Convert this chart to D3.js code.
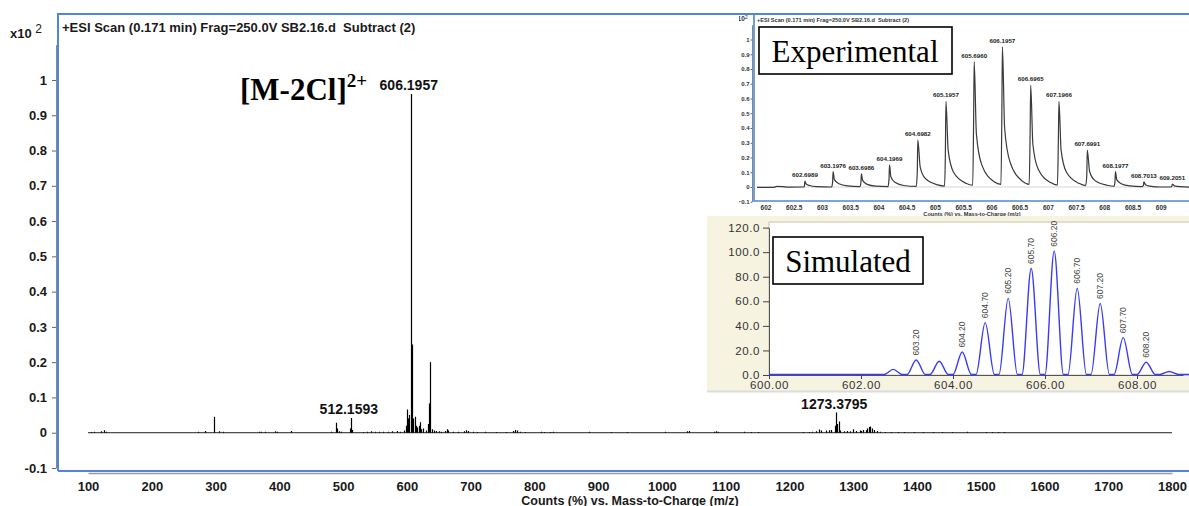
<!DOCTYPE html>
<html>
<head>
<meta charset="utf-8">
<script src="https://cdn.jsdelivr.net/npm/d3@7"></script>
<style>
  html, body { margin: 0; padding: 0; background: #fff; }
  svg { display: block; }
</style>
</head>
<body>
<svg id="chart" width="1189" height="506"></svg>
<script>
// ---------- Full-range ESI spectrum (centroid sticks) ----------
const mainMz = [104, 110, 121, 125, 128,
  273, 283, 298, 305, 312,
  368, 372, 377, 394, 396, 418,
  481, 489.2, 490.5, 494, 497,
  510.6, 512.1593, 513.2, 514.5,
  531, 538, 544, 550, 556, 562, 570, 577, 584, 589, 595,
  598.5, 600, 601, 602.4, 604, 606.1957, 607.5, 608.6, 610, 612.5, 614, 616, 618.5, 620, 623, 626, 630,
  633, 634.6, 635.8, 637, 639, 642, 646, 650, 654, 660, 663, 665, 672, 680, 690, 693, 696, 703, 710, 722,
  740, 755, 767, 770, 773, 778, 785, 810, 815, 825, 830, 886,
  920, 946, 1005, 1040, 1043, 1081, 1085, 1088, 1128, 1139, 1150,
  1222, 1230, 1236, 1242, 1246, 1250, 1257, 1262, 1266, 1271, 1273.3795, 1275, 1277.6, 1280, 1285, 1290,
  1295, 1300, 1305, 1310, 1313, 1316, 1320, 1322, 1325, 1327, 1330, 1333, 1337, 1342, 1350, 1360, 1370,
  1380, 1395, 1410, 1425, 1440, 1455, 1478, 1508, 1518, 1527, 1537];
const mainInt = [0.002, 0.003, 0.004, 0.007, 0.003,
  0.003, 0.005, 0.045, 0.004, 0.003,
  0.003, 0.003, 0.003, 0.004, 0.003, 0.005,
  0.003, 0.028, 0.012, 0.004, 0.003,
  0.012, 0.042, 0.02, 0.008,
  0.002, 0.003, 0.004, 0.003, 0.003, 0.003, 0.003, 0.004, 0.005, 0.003, 0.006,
  0.02, 0.066, 0.04, 0.04, 0.05, 0.96, 0.06, 0.25, 0.04, 0.045, 0.02, 0.015, 0.02, 0.03, 0.01, 0.012, 0.006,
  0.025, 0.083, 0.2, 0.025, 0.01, 0.006, 0.005, 0.004, 0.003, 0.005, 0.01, 0.006, 0.003, 0.003, 0.004, 0.007, 0.005, 0.003, 0.002, 0.003,
  0.002, 0.002, 0.005, 0.008, 0.006, 0.003, 0.002, 0.003, 0.002, 0.002, 0.003, 0.003,
  0.002, 0.002, 0.003, 0.004, 0.005, 0.003, 0.004, 0.003, 0.003, 0.002, 0.002,
  0.002, 0.002, 0.003, 0.004, 0.009, 0.006, 0.006, 0.007, 0.008, 0.02, 0.057, 0.025, 0.032, 0.006, 0.004, 0.005,
  0.004, 0.01, 0.005, 0.006, 0.005, 0.008, 0.007, 0.012, 0.016, 0.018, 0.012, 0.008, 0.005, 0.003, 0.002, 0.002, 0.002,
  0.002, 0.002, 0.002, 0.002, 0.002, 0.002, 0.003, 0.002, 0.002, 0.002, 0.002];

const mainXTicks = [100, 200, 300, 400, 500, 600, 700, 800, 900, 1000, 1100, 1200, 1300, 1400, 1500, 1600, 1700, 1800];
const mainYTicks = [-0.1, 0, 0.1, 0.2, 0.3, 0.4, 0.5, 0.6, 0.7, 0.8, 0.9, 1];
const mainYLabels = ["-0.1", "0", "0.1", "0.2", "0.3", "0.4", "0.5", "0.6", "0.7", "0.8", "0.9", "1"];

// Labelled ions on the full spectrum
const mainLabelMz = [606.1957, 512.1593, 1273.3795];
const mainLabelInt = [0.96, 0.042, 0.057];
const mainLabelText = ["606.1957", "512.1593", "1273.3795"];

// ---------- Experimental isotope cluster (profile trace) ----------
const expProfile = [
  [601.85, -0.003], [602.15, -0.002], [602.2, 0.004], [602.3, 0.003], [602.4, -0.001], [602.68, 0.0],
  [602.69, 0.01], [602.699, 0.04], [602.72, 0.02], [602.78, 0.01], [602.9, 0.003], [603.17, 0.0],
  [603.188, 0.03], [603.198, 0.105], [603.22, 0.05], [603.3, 0.022], [603.45, 0.007], [603.67, 0.002],
  [603.69, 0.03], [603.699, 0.09], [603.72, 0.045], [603.8, 0.018], [603.95, 0.006], [604.17, 0.003],
  [604.187, 0.05], [604.197, 0.15], [604.22, 0.07], [604.3, 0.03], [604.45, 0.01], [604.67, 0.004],
  [604.688, 0.1], [604.698, 0.32], [604.74, 0.135], [604.83, 0.058], [605.05, 0.014], [605.17, 0.006],
  [605.185, 0.2], [605.196, 0.58], [605.235, 0.25], [605.33, 0.1], [605.55, 0.025], [605.67, 0.012],
  [605.686, 0.45], [605.696, 0.85], [605.735, 0.36], [605.83, 0.15], [606.05, 0.035], [606.17, 0.018],
  [606.186, 0.5], [606.196, 0.95], [606.235, 0.4], [606.33, 0.17], [606.55, 0.04], [606.67, 0.018],
  [606.686, 0.35], [606.697, 0.69], [606.735, 0.29], [606.83, 0.12], [607.05, 0.03], [607.17, 0.013],
  [607.186, 0.3], [607.197, 0.58], [607.235, 0.25], [607.33, 0.1], [607.55, 0.025], [607.67, 0.01],
  [607.69, 0.08], [607.699, 0.25], [607.74, 0.105], [607.83, 0.045], [608.05, 0.012], [608.17, 0.005],
  [608.188, 0.03], [608.198, 0.105], [608.22, 0.05], [608.3, 0.022], [608.45, 0.007], [608.67, 0.003],
  [608.692, 0.01], [608.701, 0.035], [608.73, 0.015], [608.8, 0.006], [609.0, 0.0], [609.18, 0.0],
  [609.197, 0.005], [609.205, 0.02], [609.24, 0.008], [609.35, 0.002], [609.6, -0.002]
];
const expLabelMz = [602.6989, 603.1976, 603.6986, 604.1969, 604.6982, 605.1957, 605.6960, 606.1957,
  606.6965, 607.1966, 607.6991, 608.1977, 608.7013, 609.2051];
const expLabelInt = [0.04, 0.105, 0.09, 0.15, 0.32, 0.58, 0.85, 0.95, 0.69, 0.58, 0.25, 0.105, 0.035, 0.02];
const expLabelText = ["602.6989", "603.1976", "603.6986", "604.1969", "604.6982", "605.1957", "605.6960",
  "606.1957", "606.6965", "607.1966", "607.6991", "608.1977", "608.7013", "609.2051"];
const expXTicks = [602, 602.5, 603, 603.5, 604, 604.5, 605, 605.5, 606, 606.5, 607, 607.5, 608, 608.5, 609];
const expYTicks = [-0.1, 0, 0.1, 0.2, 0.3, 0.4, 0.5, 0.6, 0.7, 0.8, 0.9, 1];

// ---------- Simulated isotope pattern ----------
const simCenters = [602.7, 603.2, 603.7, 604.2, 604.7, 605.2, 605.7, 606.2, 606.7, 607.2, 607.7, 608.2, 608.7];
const simHeights = [4.2, 11.8, 10.8, 18.3, 42.2, 62, 86.3, 100.4, 70.2, 57.8, 30, 10, 2.5];
const simLabelText = ["", "603.20", "", "604.20", "604.70", "605.20", "605.70", "606.20", "606.70", "607.20", "607.70", "608.20", ""];
const simXTicks = [600, 602, 604, 606, 608];
const simXLabels = ["600.00", "602.00", "604.00", "606.00", "608.00"];
const simYTicks = [0, 20, 40, 60, 80, 100, 120];
const simYLabels = ["0.0", "20.0", "40.0", "60.0", "80.0", "100.0", "120.0"];

// ======================================================================
const svg = d3.select("#chart");
const SANS = "'Liberation Sans', Arial, sans-serif";
const SERIF = "'Liberation Serif', 'Times New Roman', serif";
const FRAME = "#4f86d9";

// ---------- main panel ----------
const x = d3.scaleLinear().domain([100, 1800]).range([88, 1172]);
const y = d3.scaleLinear().domain([-0.1, 1.1]).range([468, 44.7]);

// y axis
const yAxis = svg.append("g")
  .attr("transform", "translate(56,0)")
  .call(d3.axisLeft(y).tickValues(mainYTicks).tickSize(4).tickSizeOuter(0).tickPadding(5)
    .tickFormat((d, i) => mainYLabels[i]));
yAxis.select(".domain").attr("stroke", "#888");
yAxis.selectAll(".tick line").attr("stroke", "#666");
yAxis.selectAll("text").attr("font-family", SANS).attr("font-size", 13).attr("font-weight", "bold").attr("fill", "#1a1a1a");

// x axis
const xAxis = svg.append("g")
  .attr("transform", "translate(0,473)")
  .call(d3.axisBottom(x).tickValues(mainXTicks).tickSize(0).tickPadding(9).tickFormat(d3.format("d")));
xAxis.select(".domain").attr("stroke", "#9a9a9a").attr("stroke-width", 1.5);
xAxis.selectAll("text").attr("font-family", SANS).attr("font-size", 13).attr("font-weight", "bold").attr("fill", "#1a1a1a");

svg.append("text").attr("x", 630).attr("y", 504.5).attr("text-anchor", "middle")
  .attr("font-family", SANS).attr("font-size", 12.5).attr("font-weight", "bold").attr("fill", "#1a1a1a")
  .text("Counts (%) vs. Mass-to-Charge (m/z)");

// blue frame
svg.append("path")
  .attr("d", "M58,471 V14 H1189 M58,471 H1189")
  .attr("fill", "none").attr("stroke", FRAME).attr("stroke-width", 2);

// scale factor and scan header
const sc = svg.append("text").attr("x", 10).attr("y", 38)
  .attr("font-family", SANS).attr("font-size", 13).attr("font-weight", "bold").attr("fill", "#1a1a1a");
sc.append("tspan").text("x10 ");
sc.append("tspan").attr("dy", -5).attr("font-size", 12).attr("font-weight", "normal").text("2");

svg.append("text").attr("x", 62).attr("y", 32)
  .attr("font-family", SANS).attr("font-size", 13).attr("font-weight", "bold").attr("fill", "#1a1a1a")
  .attr("xml:space", "preserve")
  .text("+ESI Scan (0.171 min) Frag=250.0V SB2.16.d  Subtract (2)");

// baseline and sticks
svg.append("line")
  .attr("x1", x(100)).attr("x2", x(1800)).attr("y1", y(0)).attr("y2", y(0))
  .attr("stroke", "#222").attr("stroke-width", 1);

const stickPath = d3.path();
mainMz.forEach((m, i) => {
  stickPath.moveTo(Math.round(x(m)) + 0.5, y(0));
  stickPath.lineTo(Math.round(x(m)) + 0.5, y(mainInt[i]));
});
svg.append("path").attr("d", stickPath.toString())
  .attr("fill", "none").attr("stroke", "#000").attr("stroke-width", 1.2);

svg.selectAll("text.ion").data(mainLabelMz).join("text").attr("class", "ion")
  .attr("x", d => x(d) - 2).attr("y", (d, i) => y(mainLabelInt[i]) - 4)
  .attr("text-anchor", "middle")
  .attr("font-family", SANS).attr("font-size", 14).attr("font-weight", "bold").attr("fill", "#111")
  .text((d, i) => mainLabelText[i]);

const ion = svg.append("text").attr("x", 240).attr("y", 100)
  .attr("font-family", SERIF).attr("font-size", 31).attr("font-weight", "bold").attr("fill", "#000");
ion.append("tspan").text("[M-2Cl]");
ion.append("tspan").attr("dy", -13).attr("font-size", 19).text("2+");

// ---------- experimental inset ----------
svg.append("clipPath").attr("id", "expClip")
  .append("rect").attr("x", 739).attr("y", 0).attr("width", 450).attr("height", 216);
const ex = svg.append("g").attr("clip-path", "url(#expClip)");
ex.append("rect").attr("x", 739).attr("y", 0).attr("width", 450).attr("height", 216).attr("fill", "#fff");

const xe = d3.scaleLinear().domain([601.85, 609.5]).range([757, 1189]);
const ye = d3.scaleLinear().domain([-0.1, 1.1]).range([201.75, 24.75]);

const eyAxis = ex.append("g").attr("transform", "translate(752,0)")
  .call(d3.axisLeft(ye).tickValues(expYTicks).tickSize(1.5).tickSizeOuter(0).tickPadding(1)
    .tickFormat(d => d === 0 ? "0" : d3.format("~g")(d)));
eyAxis.select(".domain").attr("stroke", "#888");
eyAxis.selectAll(".tick line").attr("stroke", "#666");
eyAxis.selectAll("text").attr("font-family", SANS).attr("font-size", 6).attr("font-weight", "bold").attr("fill", "#333");

const exAxis = ex.append("g").attr("transform", "translate(0,202)")
  .call(d3.axisBottom(xe).tickValues(expXTicks).tickSize(0).tickPadding(3)
    .tickFormat(d3.format("~g")));
exAxis.select(".domain").remove();
exAxis.selectAll("text").attr("font-family", SANS).attr("font-size", 6.5).attr("font-weight", "bold").attr("fill", "#333");

ex.append("text").attr("x", 972).attr("y", 215.5).attr("text-anchor", "middle")
  .attr("font-family", SANS).attr("font-size", 5.6).attr("font-weight", "bold").attr("fill", "#333")
  .text("Counts (%) vs. Mass-to-Charge (m/z)");

ex.append("path").attr("d", "M754,14 V201 H1189")
  .attr("fill", "none").attr("stroke", FRAME).attr("stroke-width", 1.6);
ex.append("line").attr("x1", 739).attr("x2", 1189).attr("y1", 14).attr("y2", 14)
  .attr("stroke", FRAME).attr("stroke-width", 2);

const esc = ex.append("text").attr("x", 734).attr("y", 21)
  .attr("font-family", SANS).attr("font-size", 6.5).attr("font-weight", "bold").attr("fill", "#333");
esc.append("tspan").text("x10");
esc.append("tspan").attr("dy", -2).attr("font-size", 5.5).attr("font-weight", "normal").text("2");

ex.append("text").attr("x", 757).attr("y", 22)
  .attr("font-family", SANS).attr("font-size", 5.6).attr("font-weight", "bold").attr("fill", "#333")
  .attr("xml:space", "preserve")
  .text("+ESI Scan (0.171 min) Frag=250.0V SB2.16.d  Subtract (2)");

ex.append("line").attr("x1", xe(601.85)).attr("x2", xe(609.5)).attr("y1", ye(0)).attr("y2", ye(0))
  .attr("stroke", "#bbb").attr("stroke-width", 0.6);

ex.append("path").datum(expProfile)
  .attr("d", d3.line().x(d => xe(d[0])).y(d => ye(d[1])).curve(d3.curveMonotoneX))
  .attr("fill", "none").attr("stroke", "#3a3a3a").attr("stroke-width", 1.2).attr("stroke-linejoin", "round");

ex.selectAll("text.pk").data(expLabelMz).join("text").attr("class", "pk")
  .attr("x", d => xe(d)).attr("y", (d, i) => ye(expLabelInt[i]) - 4)
  .attr("text-anchor", "middle")
  .attr("font-family", SANS).attr("font-size", 6.2).attr("font-weight", "bold").attr("fill", "#222")
  .text((d, i) => expLabelText[i]);

ex.append("rect").attr("x", 759).attr("y", 27).attr("width", 193).attr("height", 47)
  .attr("fill", "#fff").attr("stroke", "#000").attr("stroke-width", 1.6);
ex.append("text").attr("x", 855).attr("y", 62).attr("text-anchor", "middle")
  .attr("font-family", SERIF).attr("font-size", 31).attr("fill", "#000").text("Experimental");

// ---------- simulated inset ----------
const sim = svg.append("g");
sim.append("rect").attr("x", 707).attr("y", 216).attr("width", 482).attr("height", 175).attr("fill", "#f7f3e1");
sim.append("line").attr("x1", 707).attr("x2", 1189).attr("y1", 391.5).attr("y2", 391.5).attr("stroke", "#dcdcdc").attr("stroke-width", 2);
sim.append("rect").attr("x", 769).attr("y", 222).attr("width", 430).attr("height", 153)
  .attr("fill", "#fff").attr("stroke", "#c9c4a6").attr("stroke-width", 1);

const xs = d3.scaleLinear().domain([600, 609]).range([769, 1183]);
const ys = d3.scaleLinear().domain([0, 120]).range([375, 227.6]);

const syAxis = sim.append("g").attr("transform", "translate(769,0)")
  .call(d3.axisLeft(ys).tickValues(simYTicks).tickSize(6).tickSizeOuter(0).tickPadding(3)
    .tickFormat((d, i) => simYLabels[i]));
syAxis.select(".domain").attr("stroke", "#555");
syAxis.selectAll(".tick line").attr("stroke", "#444");
syAxis.selectAll("text").attr("font-family", SANS).attr("font-size", 11.5).attr("fill", "#333").attr("letter-spacing", 0.6);

const sxAxis = sim.append("g").attr("transform", "translate(0,375)")
  .call(d3.axisBottom(xs).tickValues(simXTicks).tickSize(4).tickSizeOuter(0).tickPadding(2)
    .tickFormat((d, i) => simXLabels[i]));
sxAxis.select(".domain").attr("stroke", "#555");
sxAxis.selectAll(".tick line").attr("stroke", "#444");
sxAxis.selectAll("text").attr("font-family", SANS).attr("font-size", 11.5).attr("fill", "#333").attr("letter-spacing", 0.6);

sim.append("clipPath").attr("id", "simClip")
  .append("rect").attr("x", 769).attr("y", 222).attr("width", 420).attr("height", 154);
const simPts = [[600, 0]];
simCenters.forEach((c, i) => {
  simPts.push([c - 0.2, 0], [c, simHeights[i]], [c + 0.2, 0]);
});
simPts.push([609.5, 0]);
sim.append("path").datum(simPts).attr("clip-path", "url(#simClip)")
  .attr("d", d3.line().x(d => xs(d[0])).y(d => ys(d[1]) - 0.5).curve(d3.curveMonotoneX))
  .attr("fill", "none").attr("stroke", "#3b3bf7").attr("stroke-width", 1.4);

sim.selectAll("text.sl").data(simCenters.filter((c, i) => simLabelText[i])).join("text").attr("class", "sl")
  .attr("transform", d => {
    const i = simCenters.indexOf(d);
    return `translate(${xs(d) + 3},${ys(simHeights[i]) - 5}) rotate(-90)`;
  })
  .attr("font-family", SANS).attr("font-size", 8.5).attr("fill", "#444")
  .text(d => simLabelText[simCenters.indexOf(d)]);

sim.append("rect").attr("x", 773).attr("y", 237).attr("width", 150).attr("height", 47)
  .attr("fill", "#fff").attr("stroke", "#000").attr("stroke-width", 1.6);
sim.append("text").attr("x", 848).attr("y", 272).attr("text-anchor", "middle")
  .attr("font-family", SERIF).attr("font-size", 31).attr("fill", "#000").text("Simulated");
</script>
</body>
</html>
